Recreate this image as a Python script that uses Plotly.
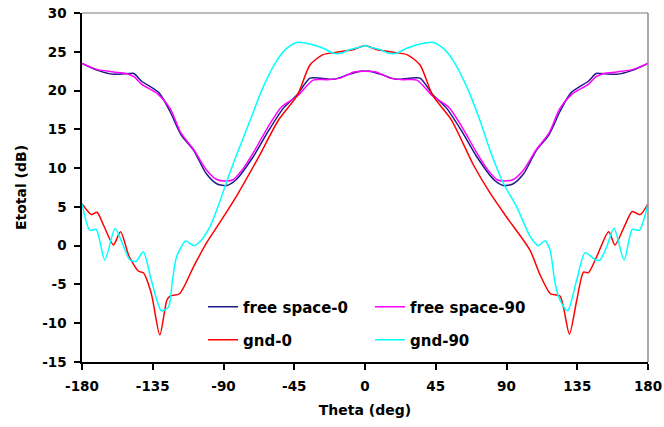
import plotly.graph_objects as go

# Radiation pattern cuts: total field (dB) versus theta (deg)
THETA_FS0 = [-180, -170, -160, -150, -147, -142, -131, -124, -117, -109, -101, -94, -88, -82,
             -71, -62, -52, -43, -35, -28, -20, -10, -3, 0, 3, 10, 20, 28, 35, 43, 52, 62, 71,
             82, 88, 94, 101, 109, 117, 124, 131, 142, 147, 150, 160, 170, 180]
E_FS0 = [23.5, 22.6, 22.1, 22.2, 22.2, 21.2, 19.7, 17.3, 14.3, 12.3, 9.3, 7.95, 7.75, 8.5,
         11.5, 14.6, 17.7, 19.5, 21.6, 21.6, 21.45, 22.1, 22.5, 22.5, 22.5, 22.1, 21.45, 21.6,
         21.6, 19.5, 17.7, 14.6, 11.5, 8.5, 7.75, 7.95, 9.3, 12.3, 14.3, 17.3, 19.7, 21.2,
         22.2, 22.2, 22.1, 22.6, 23.5]

THETA_FS90 = [-180, -170, -160, -152, -147, -142, -132, -124, -117, -109, -101, -94, -88, -84,
              -78, -71, -62, -53, -43, -33, -24, -16, -7, 0, 7, 16, 24, 33, 43, 53, 62, 71, 78,
              84, 88, 94, 101, 109, 117, 124, 132, 142, 147, 152, 160, 170, 180]
E_FS90 = [23.5, 22.7, 22.4, 22.2, 21.8, 20.8, 19.6, 17.7, 14.5, 12.4, 9.8, 8.5, 8.35, 8.5,
          9.8, 12.0, 15.2, 17.9, 19.3, 21.35, 21.4, 21.6, 22.4, 22.5, 22.4, 21.6, 21.4, 21.35,
          19.3, 17.9, 15.2, 12.0, 9.8, 8.5, 8.35, 8.5, 9.8, 12.4, 14.5, 17.7, 19.6, 20.8, 21.8,
          22.2, 22.4, 22.7, 23.5]

THETA_GND0 = [-180, -174, -170.5, -166, -160, -155.5, -150, -144, -141, -136, -130.5, -126,
              -124, -118, -109, -101, -92, -82, -68, -55, -43, -35, -27, -16, -7, 0, 7, 16, 27,
              35, 43, 55, 69, 79.5, 90, 105, 111, 118, 124, 130, 134.7, 139, 142, 147.4, 155,
              159, 165, 170, 175, 180]
E_GND0 = [5.4, 4.0, 4.3, 2.5, 0.1, 1.8, -1.4, -3.3, -3.5, -6.1, -11.5, -7.0, -6.5, -6.2, -2.7,
          0.3, 3.1, 6.3, 11.3, 16.2, 19.4, 23.3, 24.6, 25.0, 25.3, 25.8, 25.3, 25.0, 24.6, 23.3,
          19.4, 16.2, 10.4, 6.8, 3.7, -0.6, -3.6, -6.2, -6.5, -11.4, -7.0, -3.4, -3.5, -1.4, 1.8,
          0.1, 2.5, 4.4, 4.0, 5.4]

THETA_GND90 = [-180, -175, -171, -165.5, -159, -154.5, -149.5, -145.5, -141, -136, -129.5,
               -125, -122.5, -119.8, -114, -109, -105, -98.6, -92, -88, -83, -73, -64.7, -56,
               -50, -43.4, -35, -26.5, -20, -15, -9.5, -3, 0, 3, 9.5, 15, 20, 26.5, 35, 43.4, 50,
               56, 64.7, 73, 79.5, 88, 96.5, 105, 110.3, 114.5, 117.7, 120.9, 124, 128.8, 134.7,
               140, 146.7, 149.5, 153.8, 158.4, 164.8, 170, 174.5, 180]
E_GND90 = [5.4, 2.0, 2.1, -1.85, 2.2, 0.4, -1.85, -2.0, -0.8, -4.4, -8.4, -7.9, -4.5, -1.4, 0.6,
           0.0, 0.5, 2.45, 5.9, 8.25, 11.0, 16.2, 20.5, 23.9, 25.4, 26.2, 26.0, 25.45, 24.8, 24.8,
           25.3, 25.6, 25.8, 25.6, 25.3, 24.8, 24.8, 25.45, 26.0, 26.2, 25.4, 23.9, 20.5, 16.2,
           12.3, 8.05, 5.0, 1.2, 0.0, 0.64, -0.56, -4.85, -7.0, -8.4, -4.4, -0.9, -1.85, -1.85,
           -0.1, 2.24, -1.85, 2.1, 2.0, 5.4]

SERIES = [
    ("free space-0", THETA_FS0, E_FS0, "#1c1c88", "legend"),
    ("free space-90", THETA_FS90, E_FS90, "#ff00ff", "legend2"),
    ("gnd-0", THETA_GND0, E_GND0, "#ff0000", "legend3"),
    ("gnd-90", THETA_GND90, E_GND90, "#00ffff", "legend4"),
]

X_TICKS = [-180, -135, -90, -45, 0, 45, 90, 135, 180]
Y_TICKS = [-15, -10, -5, 0, 5, 10, 15, 20, 25, 30]

FONT = "DejaVu Sans"

fig = go.Figure()
for name, th, e, color, leg in SERIES:
    fig.add_trace(go.Scatter(
        x=th, y=e, name=name, mode="lines",
        line=dict(color=color, width=1.5, shape="spline", smoothing=0.7),
        legend=leg,
    ))

legend_font = dict(family=FONT, size=15, color="black", weight="bold")


def leg(x, y):
    return dict(x=x, y=y, xanchor="left", yanchor="middle", xref="paper", yref="paper",
                bgcolor="rgba(0,0,0,0)", font=legend_font, itemwidth=30,
                borderwidth=0)


# plot area spans x 82..648, y 13..362 of a 664x427 canvas
def px_x(p):
    return (p - 82) / 566.0


def px_y(p):
    return (362 - p) / 349.0


fig.update_layout(
    width=664, height=427,
    margin=dict(l=82, r=16, t=13, b=65, autoexpand=False),
    paper_bgcolor="white", plot_bgcolor="white",
    font=dict(family=FONT, color="black"),
    showlegend=True,
    legend=leg(px_x(203), px_y(307)),
    legend2=leg(px_x(370), px_y(307)),
    legend3=leg(px_x(203), px_y(340)),
    legend4=leg(px_x(370), px_y(340)),
    xaxis=dict(
        range=[-180, 180], tickvals=X_TICKS, ticktext=[str(v) for v in X_TICKS],
        showgrid=False, zeroline=False, automargin=False,
        showline=True, linecolor="black", linewidth=1.5,
        ticks="outside", ticklen=6, tickcolor="black", tickwidth=1.5,
        ticklabelstandoff=5,
        tickfont=dict(family=FONT, size=13.5, color="black", weight="bold"),
        title=dict(text="Theta (deg)", standoff=12,
                   font=dict(family=FONT, size=14, color="black", weight="bold")),
    ),
    yaxis=dict(
        range=[-15, 30], tickvals=Y_TICKS, ticktext=[str(v) for v in Y_TICKS],
        showgrid=False, zeroline=False, automargin=False,
        showline=True, linecolor="black", linewidth=1.5,
        ticks="outside", ticklen=6, tickcolor="black", tickwidth=1.5,
        ticklabelstandoff=5,
        tickfont=dict(family=FONT, size=13.5, color="black", weight="bold"),
        title=dict(text="Etotal (dB)", standoff=12,
                   font=dict(family=FONT, size=14, color="black", weight="bold")),
    ),
    shapes=[
        dict(type="line", xref="paper", yref="paper", x0=0, x1=1, y0=1, y1=1,
             line=dict(color="#a6a6a6", width=1.5)),
        dict(type="line", xref="paper", yref="paper", x0=1, x1=1, y0=0, y1=1,
             line=dict(color="#8c8c8c", width=1.5)),
    ],
)

fig.write_html("out.html")
